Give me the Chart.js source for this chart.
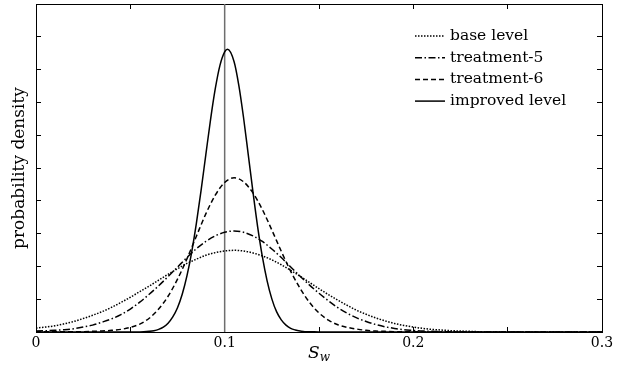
<!DOCTYPE html>
<html>
<head>
<meta charset="utf-8">
<script src="https://cdn.jsdelivr.net/npm/chart.js@4.4.1/dist/chart.umd.min.js"></script>
<style>
  html, body { margin: 0; padding: 0; background: #fff; }
  canvas { display: block; }
</style>
</head>
<body>
<canvas id="densityChart" width="624" height="366"></canvas>
<script>
// valori (asse y senza unità, 0..10)
const xBroad = [0, 0.005, 0.01, 0.015, 0.02, 0.025, 0.03, 0.035, 0.04, 0.045,
    0.05, 0.055, 0.06, 0.065, 0.07, 0.075, 0.08, 0.085, 0.09, 0.095,
    0.1, 0.105, 0.11, 0.115, 0.12, 0.125, 0.13, 0.135, 0.14, 0.145,
    0.15, 0.155, 0.16, 0.165, 0.17, 0.175, 0.18, 0.185, 0.19, 0.195,
    0.2, 0.205, 0.21, 0.215, 0.22, 0.225, 0.23, 0.235, 0.24, 0.245, 0.25, 0.3];

const baseLevel = [0.12, 0.15, 0.19, 0.25, 0.32, 0.41, 0.51, 0.62, 0.75, 0.90,
    1.06, 1.23, 1.40, 1.58, 1.76, 1.93, 2.09, 2.22, 2.34, 2.42,
    2.47, 2.49, 2.47, 2.41, 2.32, 2.20, 2.05, 1.88, 1.70, 1.51,
    1.32, 1.14, 0.97, 0.81, 0.66, 0.54, 0.43, 0.34, 0.26, 0.20,
    0.15, 0.11, 0.08, 0.06, 0.04, 0.03, 0.02, 0.01, 0.01, 0.01, 0, 0];

const treatment5 = [0.03, 0.04, 0.05, 0.07, 0.10, 0.15, 0.21, 0.30, 0.40, 0.53,
    0.70, 0.91, 1.15, 1.41, 1.69, 1.98, 2.27, 2.54, 2.76, 2.93,
    3.04, 3.08, 3.04, 2.93, 2.76, 2.53, 2.27, 1.98, 1.70, 1.43,
    1.18, 0.95, 0.74, 0.57, 0.43, 0.32, 0.23, 0.16, 0.11, 0.07,
    0.05, 0.03, 0.02, 0.01, 0.01, 0, 0, 0, 0, 0, 0, 0];

const treatment6 = [0.01, 0.01, 0.01, 0.01, 0.01, 0.01, 0.02, 0.03, 0.05, 0.08,
    0.14, 0.24, 0.42, 0.70, 1.09, 1.61, 2.23, 2.92, 3.60, 4.17,
    4.56, 4.70, 4.58, 4.24, 3.73, 3.11, 2.46, 1.85, 1.33, 0.90,
    0.58, 0.36, 0.22, 0.14, 0.09, 0.05, 0.03, 0.02, 0.01, 0.01,
    0.01, 0, 0, 0, 0, 0, 0, 0, 0, 0, 0, 0];

const xImproved = [0, 0.05, 0.055, 0.06, 0.0625, 0.065, 0.0675, 0.07, 0.0725, 0.075,
    0.0775, 0.08, 0.0825, 0.085, 0.0875, 0.09, 0.0925, 0.095, 0.0975, 0.1,
    0.1015, 0.105, 0.1075, 0.11, 0.1125, 0.115, 0.1175, 0.12, 0.1225, 0.125,
    0.1275, 0.13, 0.1325, 0.135, 0.1375, 0.14, 0.1425, 0.145, 0.15, 0.3];

const improvedLevel = [0, 0, 0, 0.02, 0.04, 0.08, 0.15, 0.27, 0.46, 0.74,
    1.15, 1.71, 2.43, 3.31, 4.32, 5.40, 6.47, 7.41, 8.13, 8.54,
    8.62, 8.24, 7.52, 6.54, 5.41, 4.27, 3.20, 2.29, 1.56, 1.01,
    0.62, 0.37, 0.21, 0.11, 0.06, 0.03, 0.01, 0.01, 0, 0];

// linea verticale di riferimento
const refX = [0.1, 0.1];
const refY = [0, 10];

const seriesLabels = ['base level', 'treatment-5', 'treatment-6', 'improved level'];

const SERIF = "'DejaVu Serif', serif";

function toPoints(xs, ys) {
    return xs.map((x, i) => ({ x: x, y: ys[i] }));
}

function curve(label, xs, ys, dash) {
    return {
        label: label,
        data: toPoints(xs, ys),
        borderColor: '#000',
        borderWidth: 1.5,
        borderDash: dash,
        pointRadius: 0,
        fill: false,
        cubicInterpolationMode: 'monotone'
    };
}

// legenda disegnata dentro l'area del grafico, in alto a destra
const curveLegend = {
    id: 'curveLegend',
    afterDraw(chart) {
        const ctx = chart.ctx;
        const area = chart.chartArea;
        ctx.save();
        ctx.font = '15.5px ' + SERIF;
        ctx.textBaseline = 'middle';
        ctx.fillStyle = '#000';
        chart.data.datasets.forEach((ds, i) => {
            if (!ds.label) return;
            const y = area.top + 32 + i * 21.7;
            const x0 = area.right - 187;
            ctx.beginPath();
            ctx.setLineDash(ds.borderDash || []);
            ctx.lineWidth = ds.borderWidth;
            ctx.strokeStyle = ds.borderColor;
            ctx.moveTo(x0, y);
            ctx.lineTo(x0 + 30, y);
            ctx.stroke();
            ctx.setLineDash([]);
            ctx.fillText(ds.label, area.right - 152, y);
        });
        ctx.restore();
    }
};

// titolo asse x: S con pedice w in corsivo, centrato sotto l'area
const xTitle = {
    id: 'xTitle',
    afterDraw(chart) {
        const ctx = chart.ctx;
        const area = chart.chartArea;
        const y = area.bottom + 26;
        ctx.save();
        ctx.fillStyle = '#000';
        ctx.textBaseline = 'alphabetic';
        ctx.font = 'italic 17px ' + SERIF;
        const wS = ctx.measureText('S').width;
        ctx.font = 'italic 12px ' + SERIF;
        const wW = ctx.measureText('w').width;
        const x = (area.left + area.right) / 2 - (wS + wW) / 2;
        ctx.font = 'italic 17px ' + SERIF;
        ctx.fillText('S', x, y);
        ctx.font = 'italic 12px ' + SERIF;
        ctx.fillText('w', x + wS, y + 3);
        ctx.restore();
    }
};

const inwardGrid = {
    drawOnChartArea: false,
    drawTicks: true,
    tickLength: -5,
    color: '#000',
    lineWidth: 1
};

const axisBorder = { color: '#000', width: 1 };

const ctx = document.getElementById('densityChart').getContext('2d');

new Chart(ctx, {
    type: 'line',
    data: {
        datasets: [
            curve(seriesLabels[0], xBroad, baseLevel, [1.5, 1.5]),
            curve(seriesLabels[1], xBroad, treatment5, [7, 2.5, 1.5, 2.5]),
            curve(seriesLabels[2], xBroad, treatment6, [5, 3]),
            curve(seriesLabels[3], xImproved, improvedLevel, []),
            {
                label: '',
                data: toPoints(refX, refY),
                borderColor: '#6e6e6e',
                borderWidth: 1.5,
                pointRadius: 0
            }
        ]
    },
    options: {
        responsive: false,
        animation: false,
        layout: { padding: 0 },
        plugins: {
            legend: { display: false },
            tooltip: { enabled: false }
        },
        scales: {
            x: {
                type: 'linear',
                position: 'bottom',
                min: 0,
                max: 0.3,
                afterFit: s => { s.height = 34; },
                border: axisBorder,
                grid: inwardGrid,
                ticks: {
                    stepSize: 0.05,
                    autoSkip: false,
                    maxRotation: 0,
                    padding: 8,
                    color: '#000',
                    font: { family: SERIF, size: 14 },
                    callback: function (value) {
                        const r = Math.round(value * 100);
                        return r % 10 === 0 ? String(r / 100) : '';
                    }
                }
            },
            xTop: {
                type: 'linear',
                position: 'top',
                min: 0,
                max: 0.3,
                afterFit: s => { s.height = 4; },
                border: axisBorder,
                grid: inwardGrid,
                ticks: { stepSize: 0.05, display: false }
            },
            y: {
                type: 'linear',
                position: 'left',
                min: 0,
                max: 10,
                afterFit: s => { s.width = 36; },
                border: axisBorder,
                grid: inwardGrid,
                ticks: { stepSize: 1, display: false },
                title: {
                    display: true,
                    text: 'probability density',
                    color: '#000',
                    font: { family: SERIF, size: 17 },
                    padding: { top: 9, bottom: 0 }
                }
            },
            yRight: {
                type: 'linear',
                position: 'right',
                min: 0,
                max: 10,
                afterFit: s => { s.width = 22; },
                border: axisBorder,
                grid: inwardGrid,
                ticks: { stepSize: 1, display: false }
            }
        }
    },
    plugins: [curveLegend, xTitle]
});
</script>
</body>
</html>
